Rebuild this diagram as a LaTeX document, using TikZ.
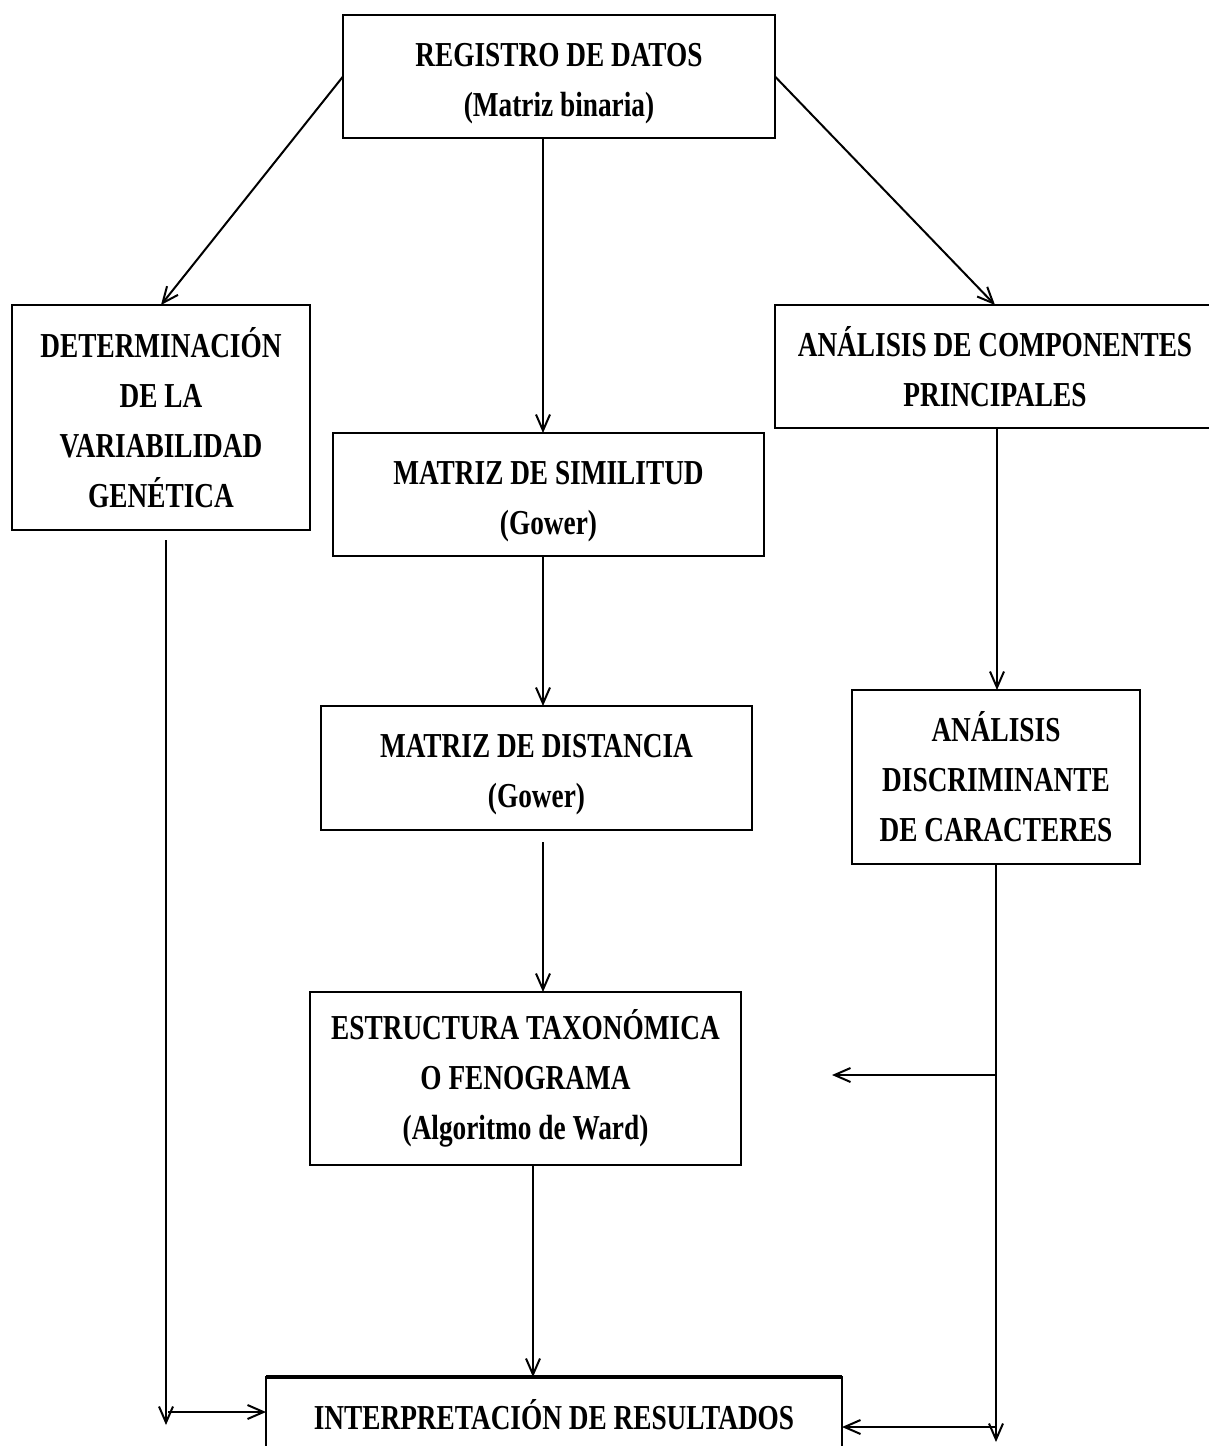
\documentclass[tikz,border=0pt]{standalone}
\usepackage{fontspec}
\setmainfont[FakeStretch=0.78]{Liberation Serif}
\usetikzlibrary{arrows.meta}
\newcommand{\topstrut}{\rule{0pt}{18.5pt}}
\begin{document}
\begin{tikzpicture}[x=0.5pt,y=-0.5pt,
  boxnode/.style={draw, line width=1.4pt, rectangle, inner sep=0pt, outer sep=0pt,
    align=center, font=\fontsize{17.5pt}{25pt}\selectfont\bfseries},
  conn/.style={line width=1pt, -{Straight Barb[length=8pt,width=7pt,line width=1pt]}},
  plain/.style={line width=1pt}]
\useasboundingbox (0,0) rectangle (1209,1446);
\clip (0,0) rectangle (1209,1446);
\fill[white] (0,0) rectangle (1209,1446);

\node[boxnode, minimum width=216pt, minimum height=61.5pt] (top) at (559,76.5)
  {\topstrut REGISTRO DE DATOS\\(Matriz binaria)};
\node[boxnode, minimum width=149pt, minimum height=112.5pt] (det) at (161,417.5)
  {DETERMINACIÓN\\DE LA\\VARIABILIDAD\\GENÉTICA};
\node[boxnode, minimum width=220pt, minimum height=61.5pt] (pca) at (995,366.5)
  {ANÁLISIS DE COMPONENTES\\PRINCIPALES};
\node[boxnode, minimum width=215.5pt, minimum height=61.5pt] (sim) at (548.5,494.5)
  {\topstrut MATRIZ DE SIMILITUD\\(Gower)};
\node[boxnode, minimum width=215.5pt, minimum height=62pt] (dist) at (536.5,768)
  {\topstrut MATRIZ DE DISTANCIA\\(Gower)};
\node[boxnode, minimum width=144pt, minimum height=87pt] (disc) at (996,777)
  {ANÁLISIS\\DISCRIMINANTE\\DE CARACTERES};
\node[boxnode, minimum width=215.5pt, minimum height=86.5pt] (est) at (525.5,1078.5)
  {ESTRUCTURA TAXONÓMICA\\O FENOGRAMA\\(Algoritmo de Ward)};
\node[boxnode, minimum width=288pt, minimum height=38pt] (interp) at (554,1415)
  {INTERPRETACIÓN DE RESULTADOS};
\draw[line width=2.4pt] (interp.north west) -- (interp.north east);

\coordinate (xa) at (543,0);
\coordinate (xb) at (533,0);
\coordinate (xr) at (997,0);
\coordinate (lb) at (166,1425);
\coordinate (lh) at (168,1412);
\coordinate (rb) at (996,1442);
\coordinate (rh) at (996,1427);
\coordinate (mid) at (996,1075);
\coordinate (midend) at (832,1075);

\draw[conn] (top.west) -- (det.north);
\draw[conn] (top.east) -- (pca.north);
\draw[conn] (top.south -| xa) -- (sim.north -| xa);
\draw[conn] (sim.south -| xa) -- (dist.north -| xa);
\draw[conn, shorten <=6pt] (dist.south -| xa) -- (est.north -| xa);
\draw[conn] (est.south -| xb) -- (interp.north -| xb);
\draw[conn] (pca.south -| xr) -- (disc.north -| xr);
\draw[conn, shorten <=5pt] (det.south -| lb) -- (lb);
\draw[conn] (lh) -- (lh -| interp.west);
\draw[conn] (disc.south -| rb) -- (rb);
\draw[conn] (rh) -- (rh -| interp.east);
\draw[conn] (mid) -- (midend);
\end{tikzpicture}
\end{document}
